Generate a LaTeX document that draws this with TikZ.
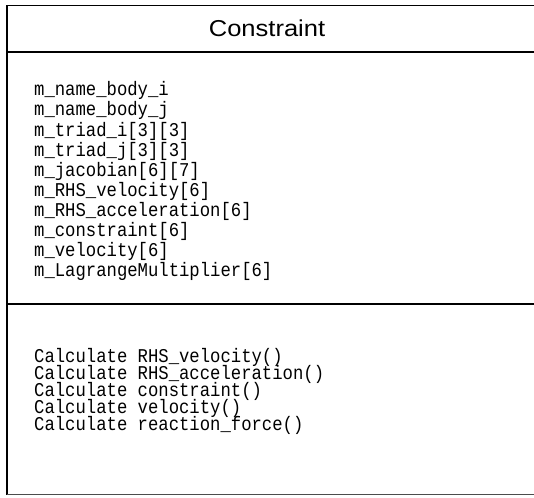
\documentclass[tikz,border=0pt]{standalone}
\usepackage{fontspec}
\setmainfont{Liberation Serif}
\newfontfamily\titlefont{Liberation Sans}
\newfontfamily\memberfont{Liberation Mono}
\begin{document}
\begin{tikzpicture}[x=1pt,y=-1pt,
  frame/.style={line width=1.8pt,black},
  divider/.style={line width=2pt,black},
  baseline rule/.style={line width=1.3pt,black!70},
  classtitle/.style={font=\titlefont\fontsize{23}{23}\selectfont,xscale=1.11,inner sep=0pt},
  member/.style={font=\memberfont\fontsize{19.5}{19.5}\selectfont,xscale=0.885,
                 inner sep=0pt,anchor=base west}]
  % canvas
  \fill[white] (0,0) rectangle (534,497);
  \useasboundingbox (0,0) rectangle (534,497);

  % corners of the class box (right side runs past the edge)
  \coordinate (tl) at (7,5.5);
  \coordinate (tr) at (534,5.5);
  \coordinate (bl) at (7,494.5);
  \coordinate (br) at (534,494.5);
  \coordinate (s1l) at (7,52);
  \coordinate (s1r) at (534,52);
  \coordinate (s2l) at (7,304);
  \coordinate (s2r) at (534,304);

  % outline and compartment dividers
  \draw[frame] (tr) -- (tl) -- (bl);
  \draw[baseline rule] (bl) -- (br);
  \draw[divider] (s1l) -- (s1r);
  \draw[divider] (s2l) -- (s2r);

  % class name
  \node[classtitle] (name) at (267,28) {Constraint};

  % attributes, one baseline per line
  \foreach \t [count=\i] in {{m\_name\_body\_i},{m\_name\_body\_j},
      {m\_triad\_i[3][3]},{m\_triad\_j[3][3]},{m\_jacobian[6][7]},
      {m\_RHS\_velocity[6]},{m\_RHS\_acceleration[6]},{m\_constraint[6]},
      {m\_velocity[6]},{m\_LagrangeMultiplier[6]}}
    \node[member] (attr\i) at (34,{96+20*(\i-1)}) {\t};

  % operations
  \foreach \t [count=\i] in {{Calculate RHS\_velocity()},
      {Calculate RHS\_acceleration()},{Calculate constraint()},
      {Calculate velocity()},{Calculate reaction\_force()}}
    \node[member] (op\i) at (34,{362+17.2*(\i-1)}) {\t};
\end{tikzpicture}
\end{document}
